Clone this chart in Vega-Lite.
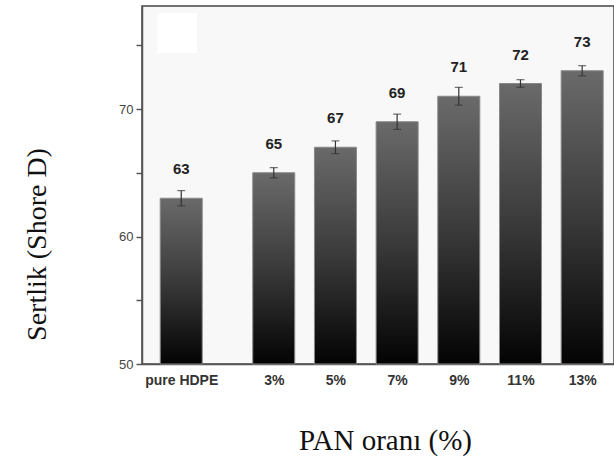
{
  "$schema": "https://vega.github.io/schema/vega-lite/v6.json",
  "autosize": {"type": "none"},
  "width": 472,
  "height": 358,
  "padding": {"left": 142, "top": 6, "right": 0, "bottom": 100},
  "background": "#ffffff",
  "config": {
    "view": {"fill": "#f8f8f8", "stroke": "#444444", "strokeWidth": 1.5},
    "font": "Liberation Sans"
  },
  "data": {
    "values": [
      {"pct": 0, "hardness": 63, "err": 0.6, "low": 62.4, "high": 63.6},
      {"pct": 3, "hardness": 65, "err": 0.4, "low": 64.6, "high": 65.4},
      {"pct": 5, "hardness": 67, "err": 0.5, "low": 66.5, "high": 67.5},
      {"pct": 7, "hardness": 69, "err": 0.6, "low": 68.4, "high": 69.6},
      {"pct": 9, "hardness": 71, "err": 0.7, "low": 70.3, "high": 71.7},
      {"pct": 11, "hardness": 72, "err": 0.3, "low": 71.7, "high": 72.3},
      {"pct": 13, "hardness": 73, "err": 0.4, "low": 72.6, "high": 73.4}
    ]
  },
  "encoding": {
    "x": {
      "field": "pct",
      "type": "quantitative",
      "scale": {"domain": [-1.11, 13.87], "nice": false, "zero": false},
      "axis": {
        "values": [0, 3, 5, 7, 9, 11, 13],
        "labelExpr": "datum.value == 0 ? 'pure HDPE' : datum.value + '%'",
        "ticks": false,
        "grid": false,
        "domainColor": "#555555",
        "domainWidth": 1.5,
        "labelFont": "Liberation Sans",
        "labelFontWeight": "bold",
        "labelFontSize": 14,
        "labelColor": "#333333",
        "labelPadding": 9,
        "labelFlush": false,
        "labelOverlap": false,
        "title": "PAN oranı (%)",
        "titleFont": "Liberation Serif",
        "titleFontWeight": "normal",
        "titleFontSize": 29,
        "titleColor": "#111111",
        "titlePadding": 39,
        "titleX": 243
      }
    }
  },
  "layer": [
    {
      "mark": {"type": "rect", "color": "#ffffff"},
      "encoding": {
        "x": {"datum": -0.76, "type": "quantitative"},
        "x2": {"datum": 0.51},
        "y": {"datum": 77.5, "type": "quantitative"},
        "y2": {"datum": 74.4}
      }
    },
    {
      "mark": {
        "type": "bar",
        "size": 42,
        "stroke": "#888888",
        "strokeWidth": 1,
        "color": {
          "gradient": "linear",
          "x1": 0, "y1": 0, "x2": 0, "y2": 1,
          "stops": [
            {"offset": 0, "color": "#6a6a6a"},
            {"offset": 0.5, "color": "#3a3a3a"},
            {"offset": 1, "color": "#030303"}
          ]
        }
      },
      "encoding": {
        "y": {
          "field": "hardness",
          "type": "quantitative",
          "scale": {"domain": [50, 78.08], "nice": false, "zero": false},
          "axis": {
            "values": [50, 55, 60, 65, 70, 75],
            "labelExpr": "datum.value % 10 == 0 ? datum.label : ''",
            "grid": false,
            "tickSize": 6,
            "tickColor": "#555555",
            "tickWidth": 1.5,
            "domainColor": "#555555",
            "domainWidth": 1.5,
            "labelFont": "Liberation Sans",
            "labelFontSize": 13,
            "labelColor": "#444444",
            "labelPadding": 3,
            "title": "Sertlik (Shore D)",
            "titleFont": "Liberation Serif",
            "titleFontWeight": "normal",
            "titleFontSize": 28,
            "titleColor": "#111111",
            "titlePadding": 67,
            "titleY": 238
          }
        },
        "y2": {"datum": 50}
      }
    },
    {
      "mark": {"type": "errorbar", "ticks": {"size": 8, "color": "#333333"}, "color": "#333333", "thickness": 1.2},
      "encoding": {
        "y": {"field": "low", "type": "quantitative", "title": "Sertlik (Shore D)"},
        "y2": {"field": "high"}
      }
    },
    {
      "mark": {"type": "text", "dy": -29, "baseline": "middle", "font": "Liberation Sans", "fontWeight": "bold", "fontSize": 15, "color": "#222222"},
      "encoding": {
        "y": {"field": "hardness", "type": "quantitative"},
        "text": {"field": "hardness", "type": "quantitative"}
      }
    }
  ]
}
